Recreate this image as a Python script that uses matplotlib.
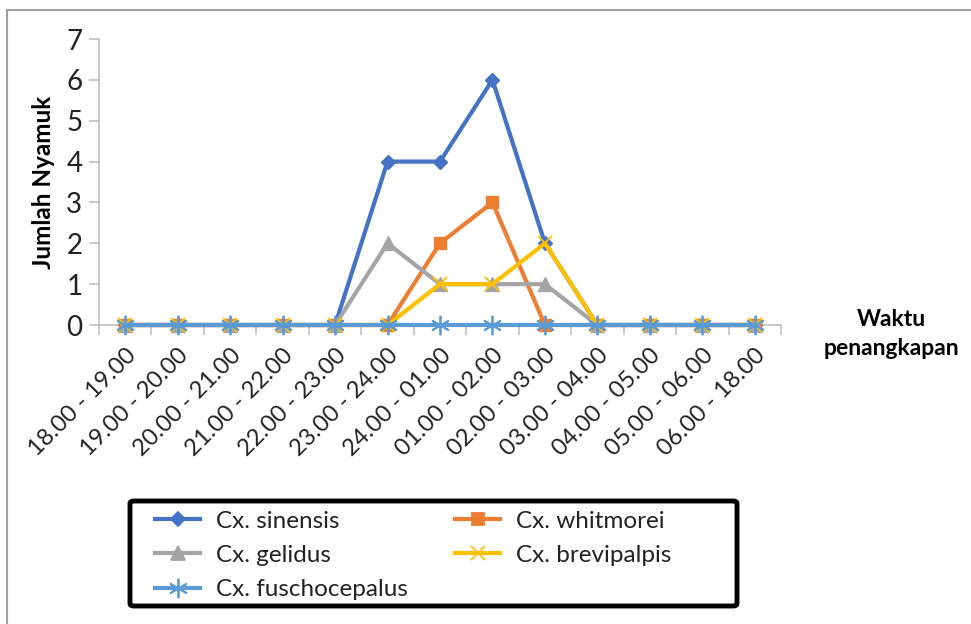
import matplotlib.pyplot as plt
from matplotlib.lines import Line2D
from matplotlib.patches import FancyBboxPatch

plt.rcParams['font.family'] = ['Lato', 'DejaVu Sans']

waktu = ['18.00 - 19.00', '19.00 - 20.00', '20.00 - 21.00', '21.00 - 22.00',
         '22.00 - 23.00', '23.00 - 24.00', '24.00 - 01.00', '01.00 - 02.00',
         '02.00 - 03.00', '03.00 - 04.00', '04.00 - 05.00', '05.00 - 06.00',
         '06.00 - 18.00']
sinensis = [0, 0, 0, 0, 0, 4, 4, 6, 2, 0, 0, 0, 0]
whitmorei = [0, 0, 0, 0, 0, 0, 2, 3, 0, 0, 0, 0, 0]
gelidus = [0, 0, 0, 0, 0, 2, 1, 1, 1, 0, 0, 0, 0]
brevipalpis = [0, 0, 0, 0, 0, 0, 1, 1, 2, 0, 0, 0, 0]
fuschocepalus = [0, 0, 0, 0, 0, 0, 0, 0, 0, 0, 0, 0, 0]

series = [
    ('Cx. sinensis', sinensis, '#4472C4', 'D', 7),
    ('Cx. whitmorei', whitmorei, '#ED7D31', 's', 9),
    ('Cx. gelidus', gelidus, '#A5A5A5', '^', 10),
    ('Cx. brevipalpis', brevipalpis, '#FFC000', 'x', 10),
    ('Cx. fuschocepalus', fuschocepalus, '#5B9BD5', (6, 2, 0), 14),
]

W, H = 971, 624
fig = plt.figure(figsize=(W / 100, H / 100), dpi=100)
ax = fig.add_axes([99 / W, 1 - 325 / H, 682 / W, 286 / H])

x = list(range(len(waktu)))
for name, vals, col, mk, ms in series:
    ax.plot(x, vals, color=col, lw=3, marker=mk, markersize=ms,
            markeredgewidth=1 if mk not in ('x', (6, 2, 0)) else 1.3,
            markerfacecolor=col, markeredgecolor=col, clip_on=False)

ax.set_xlim(-0.5, len(waktu) - 0.5)
ax.set_ylim(0, 7)
ax.set_yticks(range(8))
ax.set_xticks([i + 0.5 for i in range(-1, len(waktu))])
ax.set_xticklabels([])
ax.set_xticks(x, minor=True)
ax.set_xticklabels(waktu, minor=True, rotation=45, ha='right',
                   rotation_mode='anchor', fontsize=17, color='#222222')
ax.tick_params(axis='x', which='minor', length=0, pad=14)
ax.tick_params(axis='x', which='major', length=7, color='#BFBFBF', width=1.2)
ax.tick_params(axis='y', length=7, color='#BFBFBF', width=1.2,
               labelsize=20, labelcolor='#222222', pad=5)

for s in ['top', 'right']:
    ax.spines[s].set_visible(False)
for s in ['left', 'bottom']:
    ax.spines[s].set_color('#BFBFBF')
    ax.spines[s].set_linewidth(1.2)
ax.spines['bottom'].set_zorder(0)

ax.set_ylabel('Jumlah Nyamuk', fontsize=17.5, fontweight='bold', labelpad=8)
fig.text(891 / W, 1 - 334 / H, 'Waktu\npenangkapan', ha='center', va='center',
         fontsize=16.5, fontweight='bold', linespacing=1.45)

# outer chart frame (left and top edges only)
fig.add_artist(Line2D([6.5 / W, 6.5 / W], [0, 1 - 9.5 / H], color='#A0A0A0', lw=1.5))
fig.add_artist(Line2D([6.5 / W, 1.0], [1 - 9.5 / H, 1 - 9.5 / H], color='#A0A0A0', lw=1.5))

# legend box with heavy black border
box = FancyBboxPatch((130 / W, 1 - 606 / H), 607 / W, 105 / H,
                     boxstyle='round,pad=0,rounding_size=0.004',
                     transform=fig.transFigure, facecolor='white',
                     edgecolor='black', lw=3.5)
fig.add_artist(box)

# legend entries laid out in two columns, row by row
col_x = [155, 455]
row_y = [519, 553, 588]
for i, (name, vals, col, mk, ms) in enumerate(series):
    cx = col_x[i % 2]
    cy = 1 - row_y[i // 2] / H
    fig.add_artist(Line2D([cx / W, (cx + 45) / W], [cy, cy], color=col, lw=3))
    fig.add_artist(Line2D([(cx + 22.5) / W], [cy], color=col, marker=mk,
                          markersize=ms, markerfacecolor=col, markeredgecolor=col,
                          markeredgewidth=1.3, lw=0))
    fig.text((cx + 61) / W, cy, name, ha='left', va='center_baseline',
             fontsize=17.5, color='#222222')

fig.savefig('out.png', dpi=100)
